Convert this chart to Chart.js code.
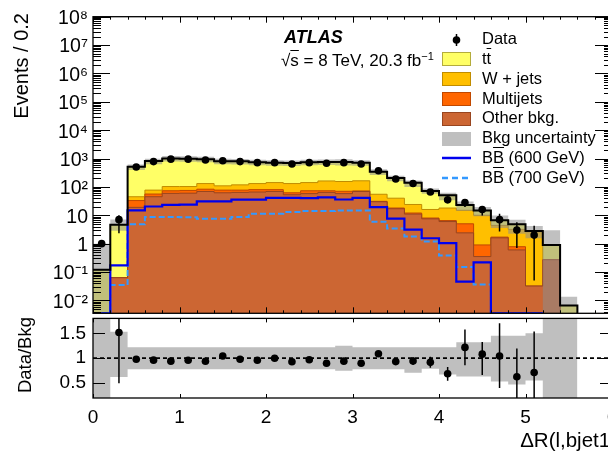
<!DOCTYPE html>
<html>
<head>
<meta charset="utf-8">
<title>ΔR(l,bjet1)</title>
<script src="https://cdn.jsdelivr.net/npm/chart.js@4/dist/chart.umd.min.js"></script>
<style>
  html, body { margin: 0; padding: 0; width: 608px; height: 453px; overflow: hidden; background: #fff; }
  body { position: relative; font-family: 'Liberation Sans', Arial, Helvetica, sans-serif; color: #000; }
  canvas { position: absolute; left: 0; }
  #mainChart { top: 0; }
  #ratioChart { top: 300px; }
  .txt { position: absolute; white-space: nowrap; line-height: 1; }
  .rot { transform-origin: 0 0; transform: rotate(-90deg); width: 200px; text-align: right; }
  .ob { text-decoration: overline; }
  .leg { position: absolute; left: 442px; height: 20px; width: 170px; font-size: 16.5px; line-height: 1; white-space: nowrap; }
  .leg .sym { position: absolute; left: 0; top: 2.4px; width: 29px; height: 14px; box-sizing: border-box; }
  .leg .lab { position: absolute; left: 40px; top: 0; }
</style>
</head>
<body>
<canvas id="mainChart" width="640" height="330"></canvas>
<canvas id="ratioChart" width="640" height="153"></canvas>

<div class="txt rot" style="left:10.5px; top:213px; font-size:20px;">Events / 0.2</div>
<div class="txt rot" style="left:15.5px; top:517px; font-size:18.5px;">Data/Bkg</div>
<div class="txt" style="right:-9px; top:430px; font-size:20.5px;">ΔR(l,bjet1)</div>

<div class="txt" style="left:284px; top:27.5px; font-size:18px; font-weight:bold; font-style:italic;">ATLAS</div>
<div class="txt" style="left:281px; top:50.6px; font-size:17px;">√<span class="ob">s</span> = 8 TeV, 20.3 fb<sup style="font-size:11px; vertical-align:6px;">−1</sup></div>

<div class="leg" style="top:30.3px"><svg class="sym" width="29" height="14"><line x1="14.5" y1="1" x2="14.5" y2="13" stroke="#000" stroke-width="1.5"/><circle cx="14.5" cy="7" r="3.8" fill="#000"/></svg><span class="lab">Data</span></div>
<div class="leg" style="top:50.1px"><div class="sym" style="background:#ffff66; border:1px solid #b4ac3c;"></div><span class="lab">t<span class="ob">t</span></span></div>
<div class="leg" style="top:69.8px"><div class="sym" style="background:#ffbf00; border:1px solid #c08c00;"></div><span class="lab">W + jets</span></div>
<div class="leg" style="top:89.6px"><div class="sym" style="background:#ff6600; border:1px solid #c04800;"></div><span class="lab">Multijets</span></div>
<div class="leg" style="top:109.4px"><div class="sym" style="background:#cc6633; border:1px solid #98451f;"></div><span class="lab">Other bkg.</span></div>
<div class="leg" style="top:129.2px"><div class="sym" style="background:#bfbfbf;"></div><span class="lab">Bkg uncertainty</span></div>
<div class="leg" style="top:148.9px"><svg class="sym" width="29" height="14"><line x1="0" y1="7" x2="29" y2="7" stroke="#0000ee" stroke-width="2.5"/></svg><span class="lab">B<span class="ob">B</span> (600 GeV)</span></div>
<div class="leg" style="top:168.7px"><svg class="sym" width="29" height="14"><line x1="0" y1="7" x2="29" y2="7" stroke="#3399ff" stroke-width="2.5" stroke-dasharray="6,4"/></svg><span class="lab">B<span class="ob">B</span> (700 GeV)</span></div>

<script>
// bin edges of the histogram (bin width 0.2)
const binEdges = [0.0, 0.2, 0.4, 0.6, 0.8, 1.0, 1.2, 1.4, 1.6, 1.8, 2.0, 2.2, 2.4, 2.6, 2.8, 3.0,
  3.2, 3.4, 3.6, 3.8, 4.0, 4.2, 4.4, 4.6, 4.8, 5.0, 5.2, 5.4, 5.6, 5.8, 6.0];

// backgrounds per bin, stacked from the bottom: other, multijet, W+jets, ttbar
const otherBkg = [0, 0.063, 19, 45, 59, 60, 69, 62, 64, 66, 69, 53, 58, 64, 58, 69,
  30, 17, 11, 7.5, 6, 2.4, 0.35, 1.6, 0.6, 0.032, 0.27, 0, 0, 0];
const multijet = [0, 0, 14, 11, 14, 15, 14, 15, 13, 14, 11, 9, 15, 9, 12, 3,
  1, 1, 1, 0.5, 0.5, 2.6, 0.55, 0.1, 0.18, 0, 0, 0, 0, 0];
const wJets = [0, 0, 12, 21, 30, 28, 48, 32, 41, 51, 62, 69, 69, 89, 85, 92,
  24, 22, 12, 8, 11.5, 10, 9.1, 2.7, 2.4, 2.57, 0, 0, 0, 0];
const ttbar = [0.12, 4.55, 465, 735, 907, 887, 816, 695, 678, 614, 573, 563, 595, 594, 605, 553,
  285, 164, 115, 56, 33, 8, 4.8, 2.3, 1.6, 0.2, 0.62, 0.0066, 0, 0];

// relative background uncertainty (up / down)
const bkgUncUp = [7.3, 0.53, 0.22, 0.22, 0.22, 0.22, 0.22, 0.22, 0.22, 0.22, 0.22, 0.22, 0.22, 0.22,
  0.25, 0.22, 0.22, 0.22, 0.22, 0.22, 0.22, 0.32, 0.32, 0.45, 0.45, 0.5, 2.3, 1.05];
const bkgUncDown = [1, 0.38, 0.22, 0.22, 0.22, 0.22, 0.22, 0.22, 0.22, 0.22, 0.22, 0.22, 0.22, 0.22,
  0.25, 0.22, 0.22, 0.22, 0.29, 0.21, 0.33, 0.37, 0.37, 0.47, 0.53, 0.45, 1, 1];

// data
const dataCounts = [1, 7, 500, 780, 950, 950, 890, 840, 780, 715, 715, 645, 715, 680, 715, 645,
  370, 190, 131, 66, 35, 28, 16, 7, 3, 2];
const dataErrUp = [0, 3, 22, 28, 31, 31, 30, 29, 28, 27, 27, 25, 27, 26, 27, 25,
  19, 14, 11, 8, 7, 8.3, 3.6, 4.4, 2.7, 2.3];
const dataErrDown = [0, 4.7, 22, 28, 31, 31, 30, 29, 28, 27, 27, 25, 27, 26, 27, 25,
  19, 14, 11, 8, 7, 8.3, 6.2, 4.3, 2.3, 1.95];

// signal BBbar
const signal600 = [0, 0.17, 14.8, 20.4, 23.3, 23.9, 31, 31, 35.7, 35.7, 41, 41, 40, 43, 36, 41,
  19.4, 7.6, 3.1, 1.55, 1.04, 0.046, 0.22, 0, 0, 0];
const signal700 = [0, 0.035, 4.8, 8.7, 8.7, 8.5, 7.6, 7.6, 8.7, 11.4, 11.4, 13, 14, 14, 14.8, 14.8,
  5.9, 3.4, 1.8, 1.19, 0.38, 0.15, 0.036, 0, 0, 0];

// axes
const xTickValues = [0, 1, 2, 3, 4, 5, 6];
const xTickLabels = ['0', '1', '2', '3', '4', '5', '6'];
const yTickValues = [1e-2, 1e-1, 1, 10, 1e2, 1e3, 1e4, 1e5, 1e6, 1e7, 1e8];
const yTickLabels = ['10⁻²', '10⁻¹', '1', '10', '10²', '10³', '10⁴', '10⁵', '10⁶', '10⁷', '10⁸'];
const ratioTickValues = [0.5, 1, 1.5];
const ratioTickLabels = ['0.5', '1', '1.5'];

const X_MIN = 0, X_MAX = 6;
const Y_MIN = 0.0035, Y_MAX = 1e8;
const R_MIN = 0.2, R_MAX = 1.8;
const FLOOR = 1e-6;
const AXIS_WIDTH = 93;
const FONT = "'Liberation Sans', Arial, Helvetica, sans-serif";

Chart.defaults.font.family = FONT;
Chart.defaults.color = '#000';

// histogram as step points (left edges + closing right edge)
function stepPoints(values, floor) {
  const pts = values.map((v, i) => ({ x: binEdges[i], y: Math.max(v, floor) }));
  pts.push({ x: binEdges[values.length], y: Math.max(values[values.length - 1], floor) });
  return pts;
}

const layerOther = otherBkg.slice();
const layerMulti = layerOther.map((v, i) => v + multijet[i]);
const layerW = layerMulti.map((v, i) => v + wJets[i]);
const totalBkg = layerW.map((v, i) => v + ttbar[i]);

const bandHigh = bkgUncUp.map((u, i) => totalBkg[i] * (1 + u));
const bandLow = bkgUncDown.map((d, i) => totalBkg[i] * (1 - d));
const ratioBandHigh = bkgUncUp.map(u => 1 + u);
const ratioBandLow = bkgUncDown.map(d => 1 - d);

const centers = dataCounts.map((_, i) => (binEdges[i] + binEdges[i + 1]) / 2);
const dataPoints = dataCounts.map((v, i) => ({ x: centers[i], y: v }));
const ratioPoints = dataCounts.map((v, i) => {
  const r = v / totalBkg[i];
  return { x: centers[i], y: r > R_MAX ? null : r };
});
const ratioErrUp = dataErrUp.map((e, i) => e / totalBkg[i]);
const ratioErrDown = dataErrDown.map((e, i) => e / totalBkg[i]);

// ROOT style inward ticks + frame
function makeFrame(xTicks, yTicks) {
  return {
    id: 'frame',
    afterDatasetsDraw(chart) {
      const { ctx, chartArea: a, scales } = chart;
      ctx.save();
      ctx.strokeStyle = '#000';
      ctx.lineWidth = 1;
      ctx.beginPath();
      xTicks.forEach(([v, len]) => {
        const px = Math.round(scales.x.getPixelForValue(v)) + 0.5;
        ctx.moveTo(px, a.bottom); ctx.lineTo(px, a.bottom - len);
        ctx.moveTo(px, a.top); ctx.lineTo(px, a.top + len);
      });
      yTicks.forEach(([v, len]) => {
        const py = Math.round(scales.y.getPixelForValue(v)) + 0.5;
        ctx.moveTo(a.left, py); ctx.lineTo(a.left + len, py);
        ctx.moveTo(a.right, py); ctx.lineTo(a.right - len, py);
      });
      ctx.stroke();
      ctx.lineWidth = 1.3;
      ctx.strokeRect(a.left, a.top, a.right - a.left, a.bottom - a.top);
      ctx.restore();
    }
  };
}

const errorBars = {
  id: 'errorBars',
  afterDatasetsDraw(chart) {
    const { ctx, chartArea: a } = chart;
    const yScale = chart.scales.y;
    chart.data.datasets.forEach((ds, di) => {
      if (!ds.errorBars) return;
      const meta = chart.getDatasetMeta(di);
      ctx.save();
      ctx.beginPath();
      ctx.rect(a.left, a.top, a.right - a.left, a.bottom - a.top);
      ctx.clip();
      ctx.strokeStyle = '#000';
      ctx.lineWidth = 1.5;
      meta.data.forEach((pt, i) => {
        const v = ds.data[i].y;
        if (v == null) return;
        const hi = v + ds.errorBars.up[i];
        const lo = v - ds.errorBars.down[i];
        const yHi = yScale.getPixelForValue(hi);
        const yLo = (yScale.type === 'logarithmic' && lo <= 0) ? a.bottom : yScale.getPixelForValue(lo);
        ctx.beginPath();
        ctx.moveTo(pt.x, yHi);
        ctx.lineTo(pt.x, yLo);
        ctx.stroke();
      });
      ctx.restore();
    });
  }
};

function stepLine(label, values, floor, extra) {
  return Object.assign({
    label: label,
    data: stepPoints(values, floor),
    stepped: true,
    pointRadius: 0,
    borderWidth: 1,
    fill: false
  }, extra);
}

// tick lists
const mainXTicks = binEdges.map(e => [e, xTickValues.includes(e) ? 6 : 3]);
const mainYTicks = yTickValues.map(v => [v, 17]);
for (let k = Math.floor(Math.log10(Y_MIN)); k < Math.log10(Y_MAX); k++) {
  for (let m = 2; m <= 9; m++) {
    const v = m * Math.pow(10, k);
    if (v >= Y_MIN && v <= Y_MAX) mainYTicks.push([v, 8]);
  }
}
const ratioXTicks = xTickValues.map(v => [v, 4]);
const ratioYTicks = ratioTickValues.map(v => [v, 12]);

new Chart(document.getElementById('mainChart'), {
  type: 'line',
  data: {
    datasets: [
      { label: 'Data', data: dataPoints, showLine: false, pointRadius: 3.8, pointHoverRadius: 3.8,
        pointBackgroundColor: '#000', pointBorderColor: '#000', pointBorderWidth: 0,
        errorBars: { up: dataErrUp, down: dataErrDown }, order: 0 },
      stepLine('Total background', totalBkg, FLOOR, { borderColor: '#000', borderWidth: 2, order: 1 }),
      stepLine('BB (600 GeV)', signal600, Y_MIN, { borderColor: '#0000ee', borderWidth: 2.2, order: 2 }),
      stepLine('BB (700 GeV)', signal700, Y_MIN, { borderColor: '#3399ff', borderWidth: 2, borderDash: [6, 3], order: 3 }),
      stepLine('Bkg uncertainty', bandHigh, FLOOR, { borderWidth: 0, borderColor: 'rgba(0,0,0,0)',
        fill: 5, backgroundColor: 'rgba(140,140,140,0.55)', order: 4 }),
      stepLine('Bkg uncertainty low', bandLow, FLOOR, { borderWidth: 0, borderColor: 'rgba(0,0,0,0)', order: 4 }),
      stepLine('Other bkg.', layerOther, FLOOR, { borderColor: '#98451f', backgroundColor: '#cc6633', fill: 'start', order: 5 }),
      stepLine('Multijets', layerMulti, FLOOR, { borderColor: '#c04800', backgroundColor: '#ff6600', fill: 'start', order: 6 }),
      stepLine('W + jets', layerW, FLOOR, { borderColor: '#c08c00', backgroundColor: '#ffbf00', fill: 'start', order: 7 }),
      stepLine('ttbar', totalBkg, FLOOR, { borderColor: '#b4ac3c', backgroundColor: '#ffff66', fill: 'start', order: 8 })
    ]
  },
  options: {
    responsive: false,
    animation: false,
    events: [],
    layout: { padding: { left: 0, top: 14, right: 28, bottom: 14 } },
    plugins: { legend: { display: false }, tooltip: { enabled: false } },
    scales: {
      x: { type: 'linear', min: X_MIN, max: X_MAX, display: false },
      y: {
        type: 'logarithmic', min: Y_MIN, max: Y_MAX, position: 'left',
        afterFit: s => { s.width = AXIS_WIDTH; },
        afterBuildTicks: s => { s.ticks = yTickValues.map(v => ({ value: v })); },
        grid: { display: false, drawTicks: false },
        border: { display: false },
        ticks: { autoSkip: false, padding: 5, labelOffset: 2, color: '#000',
          font: { size: 19.5 }, callback: (v, i) => yTickLabels[i] }
      }
    }
  },
  plugins: [makeFrame(mainXTicks, mainYTicks), errorBars]
});

new Chart(document.getElementById('ratioChart'), {
  type: 'line',
  data: {
    datasets: [
      { label: 'Data/Bkg', data: ratioPoints, showLine: false, pointRadius: 3.8, pointHoverRadius: 3.8,
        pointBackgroundColor: '#000', pointBorderColor: '#000', pointBorderWidth: 0,
        errorBars: { up: ratioErrUp, down: ratioErrDown }, order: 0 },
      { label: 'Unity', data: [{ x: X_MIN, y: 1 }, { x: X_MAX, y: 1 }], borderColor: '#000',
        borderWidth: 1.8, borderDash: [4, 3], pointRadius: 0, fill: false, order: 1 },
      stepLine('Bkg uncertainty', ratioBandHigh, -10, { borderWidth: 0, borderColor: 'rgba(0,0,0,0)',
        fill: 3, backgroundColor: '#bfbfbf', order: 2 }),
      stepLine('Bkg uncertainty low', ratioBandLow, -10, { borderWidth: 0, borderColor: 'rgba(0,0,0,0)', order: 2 })
    ]
  },
  options: {
    responsive: false,
    animation: false,
    events: [],
    layout: { padding: { left: 0, top: 16, right: 28, bottom: 15 } },
    plugins: { legend: { display: false }, tooltip: { enabled: false } },
    scales: {
      x: {
        type: 'linear', min: X_MIN, max: X_MAX, position: 'bottom',
        afterFit: s => { s.height = 40; },
        afterBuildTicks: s => { s.ticks = xTickValues.map(v => ({ value: v })); },
        grid: { display: false, drawTicks: false },
        border: { display: false },
        ticks: { autoSkip: false, maxRotation: 0, padding: 8, color: '#000',
          font: { size: 19 }, callback: (v, i) => xTickLabels[i] }
      },
      y: {
        type: 'linear', min: R_MIN, max: R_MAX, position: 'left',
        afterFit: s => { s.width = AXIS_WIDTH; },
        afterBuildTicks: s => { s.ticks = ratioTickValues.map(v => ({ value: v })); },
        grid: { display: false, drawTicks: false },
        border: { display: false },
        ticks: { autoSkip: false, padding: 7, color: '#000',
          font: { size: 19 }, callback: (v, i) => ratioTickLabels[i] }
      }
    }
  },
  plugins: [makeFrame(ratioXTicks, ratioYTicks), errorBars]
});
</script>
</body>
</html>
